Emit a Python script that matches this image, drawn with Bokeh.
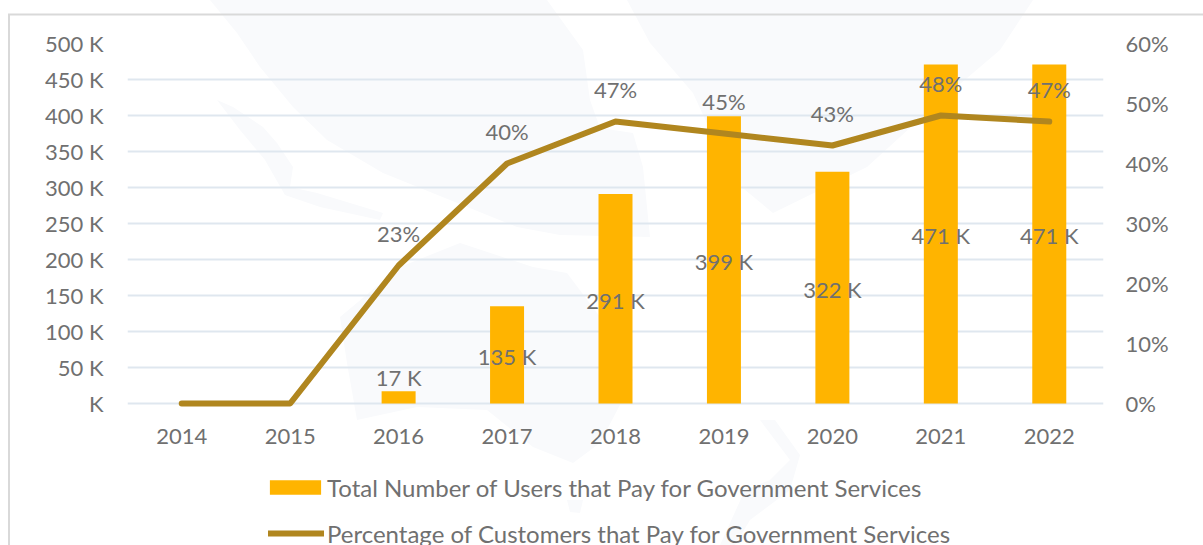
from urllib.parse import quote
from bokeh.plotting import figure
from bokeh.layouts import column
from bokeh.models import Range1d, LinearAxis, FixedTicker, Legend, LegendItem, ColumnDataSource
from bokeh.core.properties import value
from bokeh.embed import file_html
from bokeh.resources import INLINE

years = ["2014", "2015", "2016", "2017", "2018", "2019", "2020", "2021", "2022"]
users = [0, 0, 17000, 135000, 291000, 399000, 322000, 471000, 471000]
pct = [0, 0, 23, 40, 47, 45, 43, 48, 47]
user_ticks = [0, 50000, 100000, 150000, 200000, 250000, 300000, 350000, 400000, 450000, 500000]
user_tick_labels = ["K", "50 K", "100 K", "150 K", "200 K", "250 K", "300 K", "350 K", "400 K", "450 K", "500 K"]
pct_ticks = [0, 10, 20, 30, 40, 50, 60]
bar_name = "Total Number of Users that Pay for Government Services"
line_name = "Percentage of Customers that Pay for Government Services"

FONT = "Lato"
TXT = "#707070"
GRID = "#dfe7ef"
WM = "#f9fafc"
BAR = "#FFB400"
LINE = "#B0861F"

# faint map watermark and card border, painted behind the transparent canvases
shapes = [
    "210,0 237,33 260,67 293,107 327,140 383,173 450,200 517,227 560,235 650,237 643,167 633,133 600,128 590,100 583,50 547,0",
    "627,0 650,43 693,93 733,180 773,213 867,167 933,107 1000,50 1033,0",
    "217,100 233,107 263,127 277,143 293,167 290,187 317,193 383,213 380,220 320,207 285,195 265,160 240,130",
    "340,317 400,267 460,243 533,267 567,273 600,317 633,380 600,443 573,463 533,447 487,410 417,407 357,420 347,363",
    "720,545 745,490 770,480 790,460 760,420 775,420 800,455 790,490 750,520 735,545",
    "567,500 583,500 580,513 570,512",
]
svg = ("<svg xmlns='http://www.w3.org/2000/svg' width='1203' height='545'>"
       + "".join(f"<polygon points='{s}' fill='{WM}'/>" for s in shapes)
       + "<path d='M9 545V14.5H1203' fill='none' stroke='#d9d9d9' stroke-width='2'/></svg>")

# the frame runs 5px below the zero line so the thick line is not cut off there
PAD = 5 / 360
p = figure(width=1203, height=460, x_range=years, y_range=Range1d(-500000 * PAD, 500000),
           frame_width=976, frame_height=365,
           output_backend="svg", toolbar_location=None,
           min_border_left=127, min_border_right=100, min_border_top=43, min_border_bottom=52,
           outline_line_color=None, background_fill_color=None, border_fill_color=None)

p.extra_y_ranges = {"pct": Range1d(-60 * PAD, 60)}

p.ygrid.grid_line_color = GRID
p.ygrid.grid_line_width = 2
p.ygrid.ticker = FixedTicker(ticks=user_ticks)
p.xgrid.grid_line_color = None

src = ColumnDataSource(dict(year=years, users=users, pct=pct))
p.vbar(x="year", top="users", width=34 / 108.44, source=src, color=BAR, line_color=None)
p.line(x="year", y="pct", source=src, y_range_name="pct", line_color=LINE, line_width=6,
       line_cap="round", line_join="round")

vis = ColumnDataSource(dict(
    year=years[2:], pct=pct[2:],
    p_lab=[f"{v}%" for v in pct[2:]],
    u_lab=[f"{u // 1000} K" for u in users[2:]],
    u_y=[u / 2 if u > 50000 else u for u in users[2:]],
    u_off=[2 if u > 50000 else -14 for u in users[2:]],
))
p.text(x="year", y="u_y", text="u_lab", source=vis, text_font=value(FONT), text_font_size="22px",
       text_color=TXT, text_align="center", text_baseline="middle", y_offset="u_off")
p.text(x="year", y="pct", text="p_lab", source=vis, y_range_name="pct", text_font=value(FONT), text_font_size="22px",
       text_color=TXT, text_align="center", text_baseline="middle", y_offset=-32)

yax = p.yaxis[0]
yax.ticker = FixedTicker(ticks=user_ticks)
yax.major_label_overrides = {t: l for t, l in zip(user_ticks, user_tick_labels)}
yax2 = LinearAxis(y_range_name="pct", ticker=FixedTicker(ticks=pct_ticks),
                  major_label_overrides={t: f"{t}%" for t in pct_ticks})
p.add_layout(yax2, "right")
for ax in (yax, yax2, p.xaxis[0]):
    ax.major_tick_line_color = None
    ax.minor_tick_line_color = None
    ax.major_label_text_font = FONT
    ax.major_label_text_font_size = "22px"
    ax.major_label_text_color = TXT
yax.axis_line_color = None
yax2.axis_line_color = None
yax.major_label_standoff = 18
yax2.major_label_standoff = 16
xax = p.xaxis[0]
xax.axis_line_color = None
xax.major_label_standoff = 14

# legend strip under the chart; its key renderers have no x position, so only the key shows
q = figure(width=1203, height=85, x_range=Range1d(0, 1), y_range=Range1d(0, 1),
           output_backend="svg", toolbar_location=None, x_axis_location=None, y_axis_location=None,
           min_border=0, outline_line_color=None, background_fill_color=None, border_fill_color=None)
q.center = []
key_x = [float("nan")] * len(years)
key_bar = q.vbar(x=key_x, top=users, width=0.3, color=BAR, line_color=None)
key_line = q.line(x=key_x, y=pct, line_color=LINE, line_width=6, line_cap="round")
common = dict(orientation="vertical", border_line_color=None, background_fill_alpha=0, padding=0, margin=0,
              label_text_font=FONT, label_text_font_size="24px", label_text_color=TXT)
q.add_layout(Legend(items=[LegendItem(label=bar_name, renderers=[key_bar])], location=(136, 43.5),
                    glyph_width=64, glyph_height=18, label_standoff=0, **common), "center")
q.add_layout(Legend(items=[LegendItem(label=line_name, renderers=[key_line])], location=(141, -2.5),
                    glyph_width=56, glyph_height=18, label_standoff=3, **common), "center")

page = column(p, q, spacing=0, width=1203, height=545,
              styles={"background-image": f"url(\"data:image/svg+xml,{quote(svg)}\")"})
open("out.html", "w").write(file_html(page, INLINE))
